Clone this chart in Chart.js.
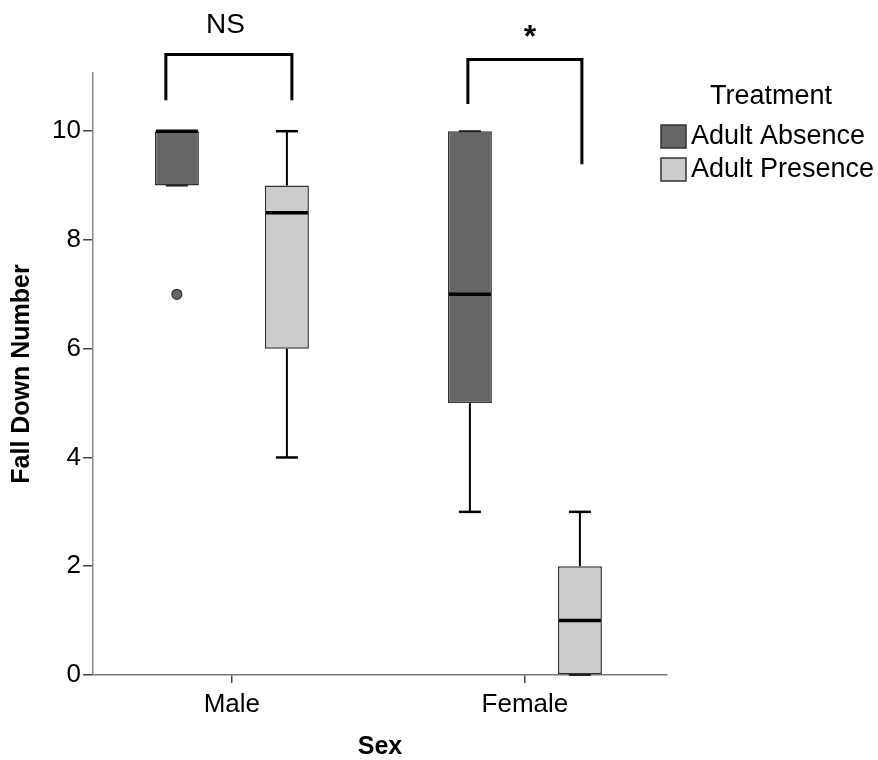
<!DOCTYPE html>
<html><head><meta charset="utf-8">
<script src="https://cdn.jsdelivr.net/npm/chart.js@4"></script>
<style>html,body{margin:0;padding:0;background:#fff}canvas{display:block}</style>
</head><body>
<canvas id="c" width="878" height="760"></canvas>
<script>
// ---- data ----
const categories = ['Male', 'Female'];
const seriesNames = ['Adult Absence', 'Adult Presence'];
const absenceMin = [9, 3];
const absenceQ1 = [9, 5];
const absenceMedian = [10, 7];
const absenceQ3 = [10, 10];
const absenceMax = [10, 10];
const absenceOutliers = [[7], []];
const presenceMin = [4, 0];
const presenceQ1 = [6, 0];
const presenceMedian = [8.5, 1];
const presenceQ3 = [9, 2];
const presenceMax = [10, 3];
const presenceOutliers = [[], []];
const yTicks = [0, 2, 4, 6, 8, 10];
const comparisonLabels = ['NS', '*'];
const legendTitle = 'Treatment';
const xTitle = 'Sex';
const yTitle = 'Fall Down Number';

const FONT = "'Liberation Sans', Arial, sans-serif";

function stats(mins, q1s, meds, q3s, maxs, outs) {
  return categories.map((c, i) => ({min: mins[i], q1: q1s[i], median: meds[i], q3: q3s[i], max: maxs[i], outliers: outs[i]}));
}

// annotation layout (positions/styles, not data)
const bracketSpecs = [
  {cat: 0, top: 11.41, leftLeg: 10.57, rightLeg: 10.57, leftDx: -11, rightDx: 5, labelDx: -6.5, labelBase: 11.8, font: '28px '},
  {cat: 1, top: 11.32, leftLeg: 10.5, rightLeg: 9.39, leftDx: -2, rightDx: 2, labelDx: 5, labelBase: 11.54, font: 'bold 32px '}
];

const boxplotPlugin = {
  id: 'boxplot',
  afterDatasetsDraw(chart) {
    const ctx = chart.ctx;
    const y = chart.scales.y;
    ctx.save();
    chart.data.datasets.forEach((ds, di) => {
      const meta = chart.getDatasetMeta(di);
      meta.data.forEach((bar, j) => {
        const s = ds.stats[j];
        const x = bar.x, w = bar.width;
        ctx.strokeStyle = '#000';
        // whiskers
        ctx.lineWidth = 2;
        ctx.beginPath();
        ctx.moveTo(x, y.getPixelForValue(s.q3)); ctx.lineTo(x, y.getPixelForValue(s.max));
        ctx.moveTo(x, y.getPixelForValue(s.q1)); ctx.lineTo(x, y.getPixelForValue(s.min));
        ctx.stroke();
        // caps
        [[s.max, s.q3], [s.min, s.q1]].forEach(([v, edge]) => {
          const py = y.getPixelForValue(v);
          const onEdge = v === edge;
          ctx.strokeStyle = onEdge ? '#222' : '#000';
          ctx.lineWidth = onEdge ? 2 : 2.5;
          ctx.beginPath();
          ctx.moveTo(x - w / 4, py); ctx.lineTo(x + w / 4, py);
          ctx.stroke();
        });
        // median
        ctx.strokeStyle = '#000';
        ctx.lineWidth = 3.5;
        ctx.beginPath();
        const my = y.getPixelForValue(s.median);
        ctx.moveTo(x - w / 2 + 1, my); ctx.lineTo(x + w / 2 - 1, my);
        ctx.stroke();
        // outliers
        s.outliers.forEach(v => {
          ctx.beginPath();
          ctx.arc(x, y.getPixelForValue(v), 5, 0, Math.PI * 2);
          ctx.fillStyle = ds.backgroundColor;
          ctx.fill();
          ctx.lineWidth = 1.2;
          ctx.strokeStyle = '#333';
          ctx.stroke();
        });
      });
    });
    // significance brackets
    const m0 = chart.getDatasetMeta(0), m1 = chart.getDatasetMeta(1);
    const xs = chart.scales.x;
    bracketSpecs.forEach((b, k) => {
      const lx = m0.data[b.cat].x + b.leftDx;
      const rx = m1.data[b.cat].x + b.rightDx;
      ctx.strokeStyle = '#000';
      ctx.lineWidth = 3;
      ctx.lineJoin = 'miter';
      ctx.beginPath();
      ctx.moveTo(lx, y.getPixelForValue(b.leftLeg));
      ctx.lineTo(lx, y.getPixelForValue(b.top));
      ctx.lineTo(rx, y.getPixelForValue(b.top));
      ctx.lineTo(rx, y.getPixelForValue(b.rightLeg));
      ctx.stroke();
      ctx.fillStyle = '#000';
      ctx.font = b.font + FONT;
      ctx.textAlign = 'center';
      ctx.textBaseline = 'alphabetic';
      ctx.fillText(comparisonLabels[k], xs.getPixelForValue(b.cat) + b.labelDx, y.getPixelForValue(b.labelBase));
    });
    ctx.restore();
  },
  afterDraw(chart) {
    // legend
    const ctx = chart.ctx;
    ctx.save();
    ctx.fillStyle = '#000';
    ctx.font = '27px ' + FONT;
    ctx.textAlign = 'center';
    ctx.textBaseline = 'middle';
    ctx.fillText(legendTitle, 771, 97);
    chart.data.datasets.forEach((ds, i) => {
      const top = 125 + i * 33;
      ctx.fillStyle = ds.backgroundColor;
      ctx.fillRect(661, top, 25, 23);
      ctx.strokeStyle = '#333';
      ctx.lineWidth = 1.5;
      ctx.strokeRect(661, top, 25, 23);
      ctx.fillStyle = '#000';
      ctx.textAlign = 'left';
      ctx.fillText(ds.label, 691, top + 12);
    });
    ctx.restore();
  }
};

const datasets = [
  {
    label: seriesNames[0],
    data: categories.map((c, i) => ({x: i, y: [absenceQ1[i], absenceQ3[i]]})),
    stats: stats(absenceMin, absenceQ1, absenceMedian, absenceQ3, absenceMax, absenceOutliers),
    backgroundColor: '#666666'
  },
  {
    label: seriesNames[1],
    data: categories.map((c, i) => ({x: i, y: [presenceQ1[i], presenceQ3[i]]})),
    stats: stats(presenceMin, presenceQ1, presenceMedian, presenceQ3, presenceMax, presenceOutliers),
    backgroundColor: '#cccccc'
  }
].map(d => Object.assign(d, {borderColor: '#333333', borderWidth: 1.5, borderSkipped: false, categoryPercentage: 0.751, barPercentage: 0.4}));

new Chart(document.getElementById('c'), {
  type: 'bar',
  data: {datasets},
  options: {
    responsive: false,
    animation: false,
    events: [],
    layout: {padding: {top: 73, right: 211, left: 0, bottom: 0}},
    plugins: {legend: {display: false}, tooltip: {enabled: false}},
    scales: {
      x: {
        type: 'linear',
        min: -0.474, max: 1.485,
        offset: false,
        afterBuildTicks(s) { s.ticks = categories.map((c, i) => ({value: i})); },
        grid: {display: true, offset: false, drawOnChartArea: false, tickLength: 8, color: '#444', lineWidth: 1.5},
        border: {display: true, color: '#777', width: 1.5},
        ticks: {font: {size: 26, family: FONT}, color: '#000', padding: 6, autoSkip: false, maxRotation: 0,
                callback: (v) => categories[v]},
        title: {display: true, text: xTitle, color: '#000', font: {size: 25, weight: 'bold', family: FONT, lineHeight: 1}, padding: {top: 0, bottom: 0}},
        afterFit(s) { s.height = 85; }
      },
      y: {
        min: 0, max: 11.07,
        afterBuildTicks(s) { s.ticks = yTicks.map(v => ({value: v})); },
        grid: {display: true, drawOnChartArea: false, tickLength: 10, color: '#444', lineWidth: 1.5},
        border: {display: true, color: '#888', width: 1.5},
        ticks: {font: {size: 26, family: FONT}, color: '#000', padding: 2},
        title: {display: true, text: yTitle, color: '#000', font: {size: 25, weight: 'bold', family: FONT, lineHeight: 1.2}, padding: {top: 7, bottom: 0}},
        afterFit(s) { s.width = 93; }
      }
    }
  },
  plugins: [boxplotPlugin]
});
</script>
</body></html>
